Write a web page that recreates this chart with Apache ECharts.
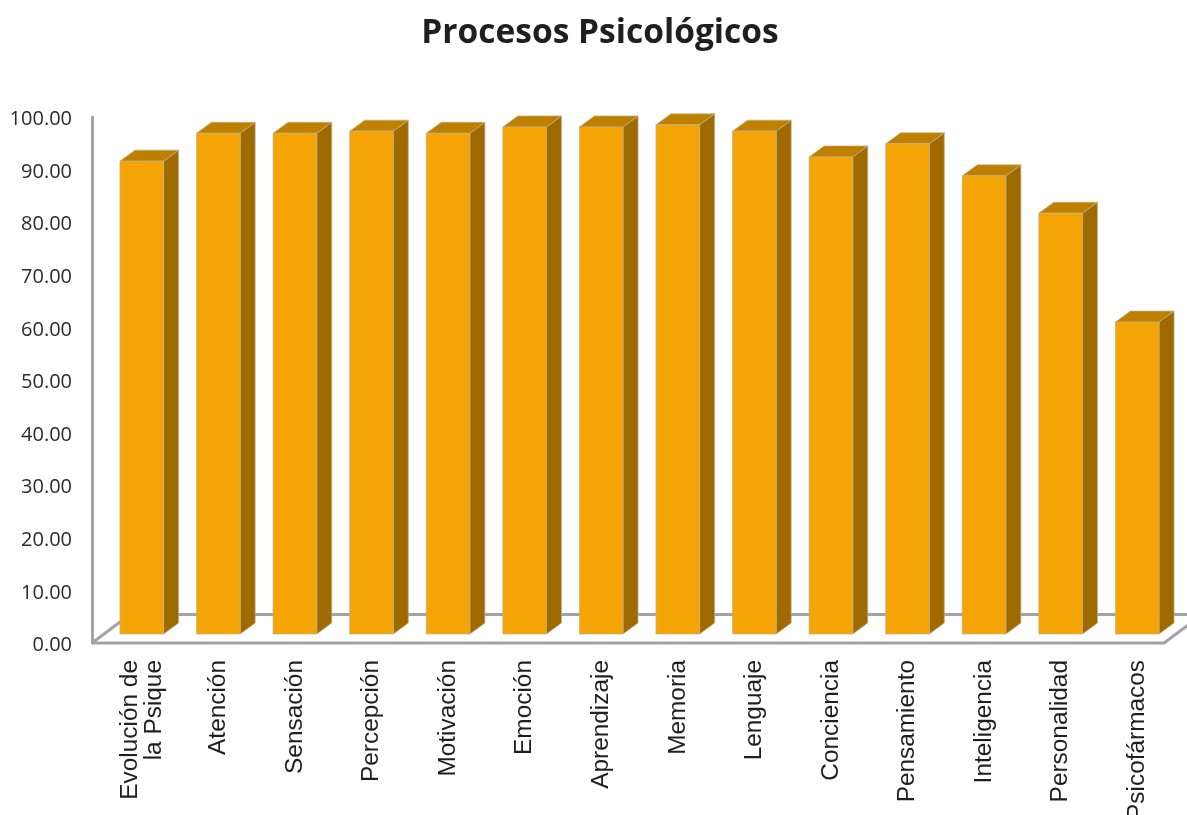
<!DOCTYPE html>
<html>
<head>
<meta charset="utf-8">
<title>Procesos Psicológicos</title>
<script src="https://cdn.jsdelivr.net/npm/echarts@6/dist/echarts.min.js"></script>
<style>
html, body { margin: 0; padding: 0; background: #fff; }
#main { width: 1187px; height: 815px; }
</style>
</head>
<body>
<div id="main"></div>
<script>
var categories = ['Evolución de\nla Psique', 'Atención', 'Sensación', 'Percepción', 'Motivación', 'Emoción',
    'Aprendizaje', 'Memoria', 'Lenguaje', 'Conciencia', 'Pensamiento', 'Inteligencia', 'Personalidad', 'Psicofármacos'];
var values = [89.9, 95.2, 95.2, 95.6, 95.2, 96.4, 96.4, 96.8, 95.6, 90.7, 93.2, 87.1, 80.0, 59.3];
var yTicks = { min: 0, max: 100, interval: 10 };

var shiftX = 11.5;      // bars sit in front of the wall, so the plot is moved right of it
var liftY = 9;          // and the bar feet stand above the front floor edge
var depthX = 15, depthY = 11;
var barShare = 0.57;

var frontColor = '#F4A505', topColor = '#BF8000', sideColor = '#9F6B00', edgeColor = 'rgba(190,175,140,0.7)';
var lineColor = '#A3A3A3';

function renderFloor(params, api) {
    var cs = params.coordSys;
    var left = cs.x - shiftX, right = cs.x + cs.width - shiftX, bottom = cs.y + cs.height;
    var backY = bottom - 28.5, backX = left + 38;
    var style = { stroke: lineColor, lineWidth: 3, fill: null };
    return {
        type: 'group',
        children: [
            { type: 'polyline', shape: { points: [[left, bottom], [right, bottom], [right + 38, backY]] }, style: style },
            { type: 'line', shape: { x1: left, y1: bottom, x2: backX, y2: backY }, style: style },
            { type: 'line', shape: { x1: backX, y1: backY, x2: api.getWidth(), y2: backY }, style: style }
        ]
    };
}

function renderBar(params, api) {
    var top = api.coord([api.value(0), api.value(1)]);
    var base = api.coord([api.value(0), 0]);
    var w = api.size([1, 0])[0] * barShare;
    var x0 = top[0] - w / 2, x1 = top[0] + w / 2;
    var y0 = top[1] - liftY, y1 = base[1] - liftY;
    function face(points, color) {
        return {
            type: 'polygon',
            shape: { points: points },
            style: { fill: color, stroke: edgeColor, lineWidth: 1 }
        };
    }
    return {
        type: 'group',
        children: [
            face([[x1, y0], [x1 + depthX, y0 - depthY], [x1 + depthX, y1 - depthY], [x1, y1]], sideColor),
            face([[x0, y0], [x0 + depthX, y0 - depthY], [x1 + depthX, y0 - depthY], [x1, y0]], topColor),
            face([[x0, y0], [x1, y0], [x1, y1], [x0, y1]], frontColor)
        ]
    };
}

var chart = echarts.init(document.getElementById('main'), null, { renderer: 'canvas' });
chart.setOption({
    animation: false,
    backgroundColor: '#fff',
    title: {
        text: 'Procesos Psicológicos',
        left: 595,
        top: 11,
        textAlign: 'center',
        textStyle: { fontFamily: 'Open Sans', fontWeight: 'bold', fontSize: 33.5, color: '#1F1F1F' }
    },
    // long labels run off the bottom of the picture, the plot must not shrink for them
    grid: { left: 92 + shiftX, top: 117, width: 1072, height: 526, outerBoundsMode: 'none' },
    xAxis: {
        type: 'category',
        data: categories,
        axisLine: { show: false },
        axisTick: { show: false },
        axisLabel: {
            interval: 0,
            rotate: 90,
            margin: 17,
            fontFamily: 'Liberation Sans',
            fontSize: 24.4,
            lineHeight: 24,
            color: '#1F1F1F'
        }
    },
    yAxis: {
        type: 'value',
        min: yTicks.min,
        max: yTicks.max,
        interval: yTicks.interval,
        offset: shiftX,
        axisLine: { show: true, lineStyle: { color: lineColor, width: 3 } },
        axisTick: { show: false },
        splitLine: { show: false },
        axisLabel: {
            margin: 20,
            fontFamily: 'Open Sans',
            fontSize: 20,
            verticalAlign: 'top',   // nudges the text down onto the tick height
            lineHeight: 5,
            color: '#2B2B2B',
            formatter: function (v) { return v.toFixed(2); }
        }
    },
    series: [
        { type: 'custom', renderItem: renderFloor, data: [[0, 0]], encode: { x: 0, y: 1 }, z: 1, silent: true },
        { type: 'custom', renderItem: renderBar, data: values.map(function (v, i) { return [i, v]; }), encode: { x: 0, y: 1 }, z: 2 }
    ]
});
</script>
</body>
</html>
